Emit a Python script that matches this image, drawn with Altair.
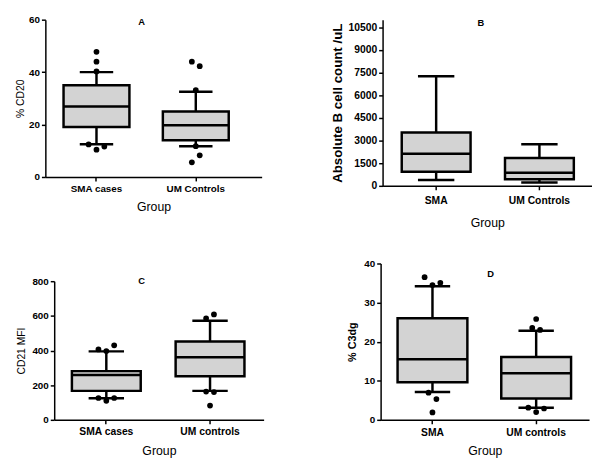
import altair as alt
import pandas as pd

FONT = "Liberation Sans"
FILL = "#d3d3d3"
LW = 2.5

# ---------------- data ----------------
# Panel A: % CD20
A_groups = ["SMA cases", "UM Controls"]
A_q1 = [19.1, 14.0]
A_med = [26.9, 19.75]
A_q3 = [35.0, 25.0]
A_lo = [12.5, 11.75]
A_hi = [40.0, 32.5]
A_out_group = ["SMA cases"] * 6 + ["UM Controls"] * 6
A_out_value = [47.75, 44.0, 40.25, 12.4, 10.4, 11.6, 44.0, 42.25, 33.1, 11.75, 8.25, 5.6]
A_out_slot = [0, 0, 0, -2, 0, 2, -1, 1, 0, 0, 1, -1]

# Panel B: Absolute B cell count /uL
B_groups = ["SMA", "UM Controls"]
B_q1 = [930, 430]
B_med = [2120, 870]
B_q3 = [3530, 1840]
B_lo = [390, 214]
B_hi = [7250, 2750]
B_out_group = []
B_out_value = []
B_out_slot = []

# Panel C: CD21 MFI
C_groups = ["SMA cases", "UM controls"]
C_q1 = [167, 251]
C_med = [259, 361]
C_q3 = [281, 452]
C_lo = [124, 167]
C_hi = [395, 572]
C_out_group = ["SMA cases"] * 6 + ["UM controls"] * 5
C_out_value = [406, 397, 430, 126, 110, 126, 585, 608, 163, 160, 82]
C_out_slot = [-2, 0, 2, -2, 0, 2, -1, 1, -1, 1, 0]

# Panel D: % C3dg
D_groups = ["SMA", "UM controls"]
D_q1 = [9.64, 5.45]
D_med = [15.5, 11.9]
D_q3 = [26.0, 16.1]
D_lo = [7.1, 3.1]
D_hi = [34.2, 22.8]
D_out_group = ["SMA"] * 6 + ["UM controls"] * 6
D_out_value = [36.5, 34.5, 35.05, 6.96, 5.3, 1.9, 25.8, 23.5, 23.0, 3.1, 2.0, 2.9]
D_out_slot = [-2, 0, 2, -1, 1, 0, 0, -1, 1, -2, 0, 2]

letters = ["A", "B", "C", "D"]


def panel(groups, q1, med, q3, lo, hi, og, ov, osl, letter, cfg):
    stats = pd.DataFrame({"g": groups, "q1": q1, "med": med, "q3": q3, "lo": lo, "hi": hi})
    outs = pd.DataFrame({"g": og, "v": ov, "slot": osl})
    sh = cfg.get("shift", 0)

    xscale = alt.Scale(domain=groups, paddingInner=0, paddingOuter=cfg["po"], align=cfg["al"],
                       range=[sh, sh + cfg["w"]])
    xaxis = alt.Axis(
        labelAngle=0, labelFont=FONT, labelFontSize=cfg["xls"], labelFontWeight="bold",
        labelColor="black", labelPadding=cfg["xlp"], tickSize=4, tickWidth=1.5,
        tickColor="black", domainColor="black", domainWidth=1.5,
        titleFont=FONT, titleFontSize=12.5, titleFontWeight="normal", titleColor="black",
        titlePadding=cfg["xtp"], grid=False,
    )
    yscale = alt.Scale(domain=cfg["ydom"], nice=False, zero=True)
    yaxis = alt.Axis(
        values=cfg["yticks"], format="d", labelFont=FONT, labelFontSize=cfg["yls"],
        labelFontWeight="bold", labelColor="black", labelPadding=2, tickSize=4, tickWidth=1.5,
        tickColor="black", domainColor="black", domainWidth=1.5, titleFont=FONT,
        titleFontSize=cfg["yts"], titleFontWeight=cfg["ytw"], titleColor="black",
        titlePadding=cfg["ytp"], grid=False, offset=-sh,
    )
    X = alt.X("g:N", scale=xscale, axis=xaxis, title="Group", sort=groups)

    def Y(f):
        return alt.Y(f"{f}:Q", scale=yscale, axis=yaxis, title=cfg["ytitle"])

    base = alt.Chart(stats)
    whisk = base.mark_rule(color="black", strokeWidth=LW).encode(x=X, y=Y("lo"), y2="hi:Q")
    box = base.mark_bar(size=cfg["bw"], fill=FILL, stroke="black", strokeWidth=LW).encode(
        x=X, y=Y("q1"), y2="q3:Q")
    median = base.mark_tick(size=cfg["bw"], thickness=LW, color="black", opacity=1).encode(
        x=X, y=Y("med"))
    cap_lo = base.mark_tick(size=cfg["cw"], thickness=LW, color="black", opacity=1).encode(
        x=X, y=Y("lo"))
    cap_hi = base.mark_tick(size=cfg["cw"], thickness=LW, color="black", opacity=1).encode(
        x=X, y=Y("hi"))
    layers = [whisk, box, median, cap_lo, cap_hi]
    for s in sorted(set(osl)):
        pts = alt.Chart(outs).transform_filter(alt.datum.slot == s).mark_circle(
            size=34, color="black", opacity=1, xOffset=4 * s).encode(x=X, y=Y("v"))
        layers.append(pts)
    lab = alt.Chart(pd.DataFrame({"t": [letter]})).mark_text(
        font=FONT, fontSize=9.5, fontWeight="bold", color="black", align="center",
        baseline="middle").encode(text="t:N", x=alt.value(cfg["lx"] + sh), y=alt.value(cfg["ly"]))
    layers.append(lab)
    return alt.layer(*layers).properties(width=cfg["w"] + sh, height=cfg["h"])


A = panel(A_groups, A_q1, A_med, A_q3, A_lo, A_hi, A_out_group, A_out_value, A_out_slot, letters[0],
          dict(w=220, h=160, po=0.089, al=0.083, ydom=[0, 60], yticks=[0, 20, 40, 60],
               ytitle="% CD20", yts=10.5, ytw="normal", ytp=3, yls=10, xls=10, xlp=2.5, xtp=8,
               bw=67, cw=34, lx=98, ly=2))
B = panel(B_groups, B_q1, B_med, B_q3, B_lo, B_hi, B_out_group, B_out_value, B_out_slot, letters[1],
          dict(w=213, h=169, po=0.014, al=0.67, ydom=[0, 11000],
               yticks=[0, 1500, 3000, 4500, 6000, 7500, 9000, 10500],
               ytitle="Absolute B cell count /uL", yts=13.5, ytw="bold", ytp=4, yls=10.5, xls=10.5,
               xlp=5.5, xtp=11.5, bw=70, cw=37, lx=100, ly=3, shift=2))
C = panel(C_groups, C_q1, C_med, C_q3, C_lo, C_hi, C_out_group, C_out_value, C_out_slot, letters[2],
          dict(w=213, h=141, po=0.0095, al=0.125, ydom=[0, 800], yticks=[0, 200, 400, 600, 800],
               ytitle="CD21 MFI", yts=10.5, ytw="normal", ytp=6, yls=10, xls=10.5, xlp=2.5, xtp=8.5,
               bw=70, cw=36, lx=89, ly=0, shift=9))
D = panel(D_groups, D_q1, D_med, D_q3, D_lo, D_hi, D_out_group, D_out_value, D_out_slot, letters[3],
          dict(w=212, h=159, po=0.005, al=0.0, ydom=[0, 40], yticks=[0, 10, 20, 30, 40],
               ytitle="%  C3dg", yts=11, ytw="bold", ytp=6, yls=10, xls=10.5, xlp=3.5, xtp=7.5,
               bw=71, cw=36, lx=112, ly=11))

left = alt.vconcat(A, C, spacing=64)
right = alt.vconcat(B, D, spacing=30)
chart = alt.hconcat(left, right, spacing=67).properties(
    padding={"left": 7, "top": 3, "right": 0, "bottom": 0},
    background="white",
).configure_view(stroke=None)

chart.save("out.html", embed_options={"renderer": "svg", "actions": False})
